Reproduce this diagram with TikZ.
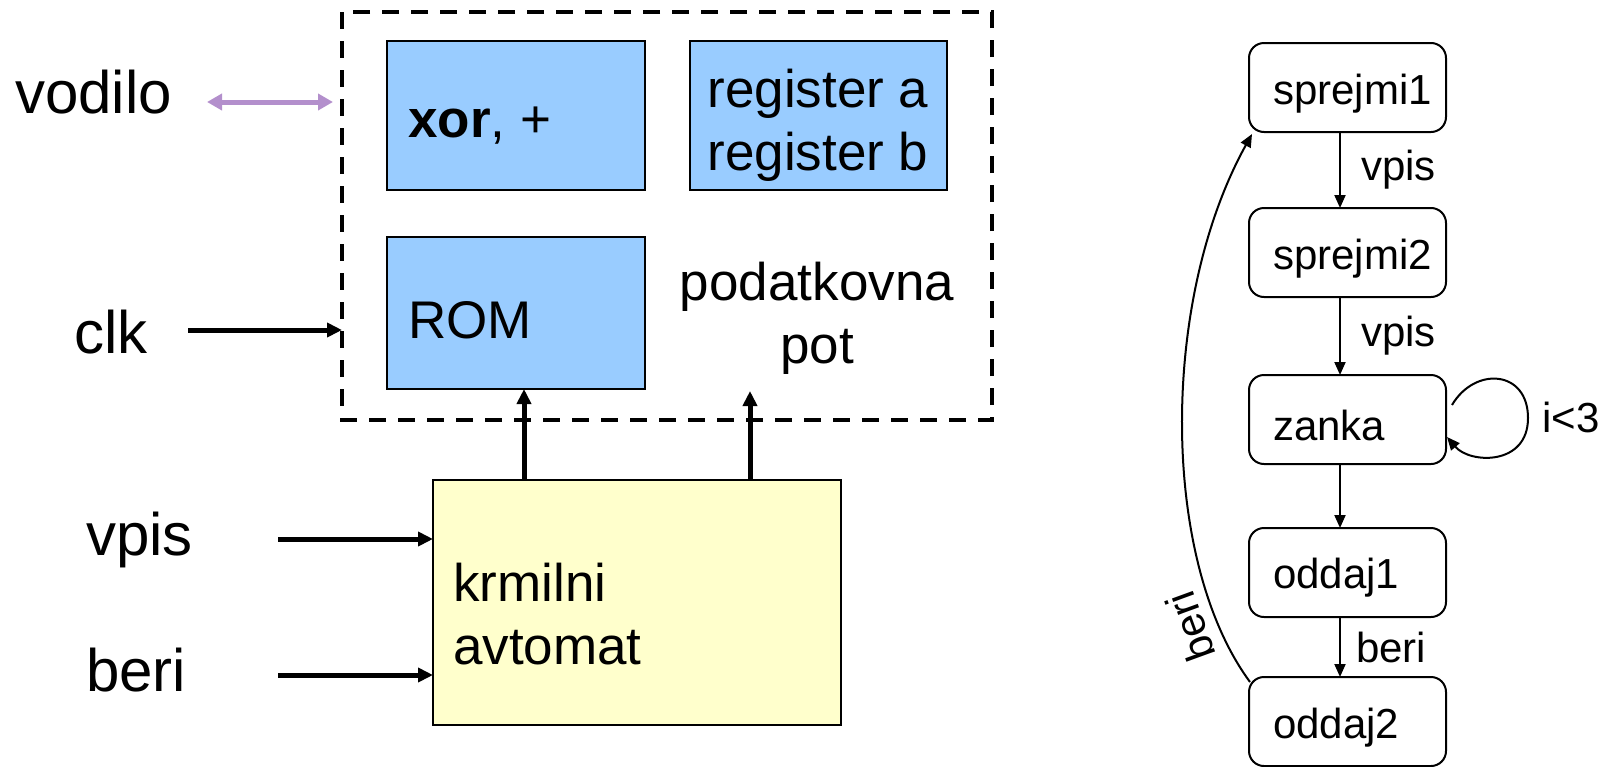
\documentclass[tikz,border=0pt]{standalone}
\usepackage{fontspec}
\setmainfont{Liberation Sans}
\usetikzlibrary{arrows.meta}
\definecolor{blk}{HTML}{99CCFF}
\definecolor{ylw}{HTML}{FFFFCC}
\definecolor{bus}{HTML}{B38FCC}
\tikzset{
  unit/.style={draw=black, line width=2.5pt, fill=blk},
  ctrl/.style={draw=black, line width=2.5pt, fill=ylw},
  big/.style={font=\fontsize{60}{64}\selectfont, inner sep=0pt},
  mid/.style={font=\fontsize{53}{63}\selectfont, inner sep=0pt},
  sm/.style={font=\fontsize{42}{48}\selectfont, inner sep=0pt},
  sig/.style={line width=5pt, -{Triangle[length=15pt,width=14pt]}},
  state/.style={draw=black, line width=2pt, rounded corners=15pt},
  tr/.style={line width=2pt, -{Triangle[length=13pt,width=11pt]}},
}
\begin{document}
\begin{tikzpicture}[x=1pt,y=-1pt]
\useasboundingbox (0,0) rectangle (1612,766);

% data path frame
\draw[line width=4pt, dash pattern=on 17pt off 12pt] (342,12) rectangle (992,420);
\draw[unit] (387,41) rectangle (645,190);
\draw[unit] (690,41) rectangle (947,190);
\draw[unit] (387,237) rectangle (645,389);
\node[mid, anchor=base west] (ops) at (408,137) {\textbf{xor}, +};
\node[mid, anchor=base] (rega) at (818,107) {register a};
\node[mid, anchor=base] (regb) at (818,170) {register b};
\node[mid, anchor=base west] (rom) at (408,338) {ROM};
\node[mid, anchor=base] (dp1) at (817,300) {podatkovna};
\node[mid, anchor=base] (dp2) at (817,363) {pot};
\coordinate (romb) at (524,389);
\coordinate (dpb) at (750,391);

% control unit
\draw[ctrl] (433,480) rectangle (841,725);
\coordinate (c1) at (524,480);
\coordinate (c2) at (750,480);
\node[mid, anchor=base west] (cu1) at (453,601) {krmilni};
\node[mid, anchor=base west] (cu2) at (453,664) {avtomat};

% outside signals
\node[big, anchor=base west] (vodilo) at (15,113) {vodilo};
\node[big, anchor=base west] (clk) at (74,353) {clk};
\node[big, anchor=base west] (vpis) at (86,555) {vpis};
\node[big, anchor=base west] (beri) at (86,691) {beri};
\coordinate (bA) at (207,102);
\coordinate (bB) at (333,102);
\coordinate (kA) at (188,330);
\coordinate (kB) at (342,330);
\coordinate (vA) at (278,539);
\coordinate (vB) at (433,539);
\coordinate (rA) at (278,675);
\coordinate (rB) at (433,675);
\draw[line width=5pt, color=bus, {Triangle[length=15pt,width=16pt]}-{Triangle[length=15pt,width=16pt]}] (bA) -- (bB);
\draw[sig] (kA) -- (kB);
\draw[sig] (vA) -- (vB);
\draw[sig] (rA) -- (rB);
\draw[sig] (c1) -- (romb);
\draw[sig] (c2) -- (dpb);

% state diagram
\foreach \n/\t/\y/\b in {s1/sprejmi1/43/61, s2/sprejmi2/208/61, z/zanka/375/65, o1/oddaj1/528/60, o2/oddaj2/677/61}{
  \draw[state] (1249,\y) rectangle (1446,\y+89);
  \node[sm, anchor=base west] (\n) at (1273,\y+\b) {\t};
}
\coordinate (s1b) at (1340,132);
\coordinate (s2t) at (1340,208);
\coordinate (s2b) at (1340,297);
\coordinate (zt) at (1340,375);
\coordinate (zb) at (1340,464);
\coordinate (o1t) at (1340,528);
\coordinate (o1b) at (1340,617);
\coordinate (o2t) at (1340,677);
\draw[tr] (s1b) -- node[sm, anchor=west, xshift=20pt] (t1) {vpis} (s2t);
\draw[tr] (s2b) -- node[sm, anchor=west, xshift=20pt] (t2) {vpis} (zt);
\draw[tr] (zb) -- (o1t);
\draw[tr] (o1b) -- node[sm, anchor=west, xshift=15pt] (t4) {beri} (o2t);
\coordinate (lpA) at (1452,405);
\coordinate (lpB) at (1447,437);
\draw[tr] (lpA) .. controls (1475,366) and (1528,370) .. (1528,418)
  .. controls (1528,466) and (1470,464) .. (lpB);
\node[sm, anchor=west] (lbl) at (1542,417) {i<3};
\coordinate (bkA) at (1250,682);
\coordinate (bkB) at (1252,134);
\draw[tr] (bkA) .. controls (1160,560) and (1160,300) .. (bkB);
\node[sm, rotate=110] (t5) at (1190,627) {beri};
\end{tikzpicture}
\end{document}
